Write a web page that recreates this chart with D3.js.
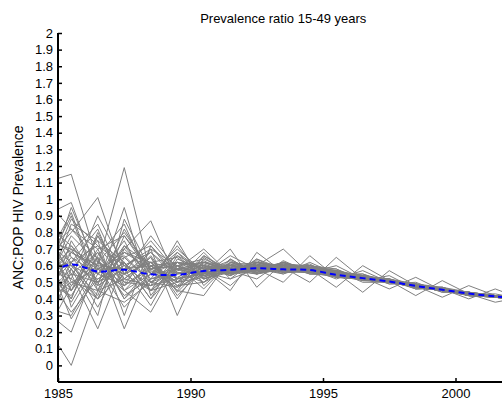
<!DOCTYPE html>
<html>
<head>
<meta charset="utf-8">
<script src="https://cdn.jsdelivr.net/npm/d3@7"></script>
<style>
  body { margin: 0; background: #fff; }
  text { font-family: "Liberation Sans", Arial, sans-serif; }
</style>
</head>
<body>
<div id="chart"></div>
<script>
const width = 502, height = 400;

// mid-year sample points (first one sits left of the axis and gets clipped)
const years = [1984.5, 1985.5, 1986.5, 1987.5, 1988.5, 1989.5, 1990.5, 1991.5, 1992.5, 1993.5,
  1994.5, 1995.5, 1996.5, 1997.5, 1998.5, 1999.5, 2000.5, 2001.5, 2002.5];

const xTicks = [1985, 1990, 1995, 2000];
const yTicks = d3.range(0, 21).map(i => i / 10);

// ensemble runs (gray)
const runs = [
  [1.10,1.15,0.62,0.80,0.58,0.60,0.62,0.60,0.62,0.60,0.59,0.56,0.54,0.52,0.49,0.47,0.44,0.42,0.41],
  [0.25,0.00,0.45,0.38,0.50,0.47,0.55,0.56,0.58,0.57,0.56,0.54,0.52,0.50,0.47,0.45,0.43,0.41,0.40],
  [0.62,0.80,1.01,0.55,0.62,0.58,0.60,0.57,0.60,0.58,0.58,0.55,0.53,0.51,0.48,0.46,0.43,0.42,0.40],
  [0.55,0.70,0.60,1.19,0.55,0.62,0.58,0.59,0.57,0.59,0.57,0.55,0.52,0.50,0.48,0.45,0.43,0.41,0.40],
  [0.40,0.55,0.22,0.62,0.45,0.50,0.53,0.58,0.56,0.60,0.58,0.53,0.52,0.51,0.47,0.46,0.42,0.41,0.39],
  [0.70,0.45,0.65,0.22,0.60,0.52,0.56,0.55,0.59,0.57,0.58,0.56,0.53,0.50,0.48,0.45,0.44,0.42,0.40],
  [0.90,0.98,0.55,0.70,0.87,0.50,0.62,0.58,0.60,0.61,0.60,0.57,0.54,0.51,0.49,0.46,0.44,0.42,0.41],
  [0.35,0.30,0.58,0.45,0.32,0.60,0.52,0.56,0.57,0.56,0.56,0.54,0.51,0.50,0.47,0.45,0.42,0.41,0.39],
  [0.50,0.88,0.72,0.60,0.70,0.30,0.65,0.55,0.60,0.58,0.59,0.55,0.53,0.50,0.48,0.46,0.43,0.42,0.40],
  [0.65,0.40,0.80,0.50,0.48,0.75,0.48,0.62,0.57,0.62,0.57,0.56,0.52,0.51,0.47,0.45,0.43,0.41,0.40],
  [0.45,0.62,0.40,0.72,0.52,0.58,0.70,0.55,0.62,0.57,0.60,0.54,0.54,0.50,0.48,0.46,0.43,0.42,0.40],
  [0.80,0.55,0.68,0.45,0.62,0.45,0.42,0.64,0.55,0.60,0.56,0.57,0.52,0.51,0.47,0.45,0.44,0.41,0.40],
  [0.30,0.75,0.50,0.62,0.40,0.66,0.58,0.45,0.68,0.56,0.59,0.55,0.53,0.50,0.48,0.46,0.42,0.42,0.40],
  [0.95,0.35,0.62,0.55,0.68,0.52,0.55,0.70,0.47,0.62,0.57,0.54,0.52,0.51,0.47,0.45,0.43,0.41,0.40],
  [0.58,0.90,0.45,0.82,0.55,0.58,0.62,0.57,0.60,0.70,0.55,0.56,0.53,0.50,0.48,0.46,0.43,0.42,0.40],
  [0.18,0.48,0.68,0.40,0.60,0.48,0.50,0.58,0.58,0.50,0.66,0.53,0.52,0.51,0.47,0.45,0.43,0.41,0.39],
  [0.75,0.62,0.35,0.65,0.50,0.62,0.60,0.54,0.62,0.59,0.50,0.65,0.52,0.50,0.48,0.46,0.43,0.42,0.40],
  [0.42,0.85,0.75,0.30,0.72,0.55,0.57,0.60,0.56,0.60,0.58,0.47,0.60,0.51,0.47,0.45,0.44,0.41,0.40],
  [0.68,0.28,0.55,0.75,0.45,0.68,0.52,0.58,0.59,0.57,0.57,0.56,0.44,0.57,0.48,0.46,0.42,0.42,0.40],
  [0.52,0.68,0.85,0.52,0.65,0.40,0.62,0.56,0.57,0.60,0.59,0.55,0.53,0.46,0.53,0.45,0.43,0.41,0.40],
  [0.38,0.50,0.45,0.68,0.58,0.60,0.46,0.62,0.60,0.56,0.57,0.56,0.52,0.51,0.42,0.51,0.43,0.41,0.39],
  [0.85,0.72,0.50,0.58,0.36,0.64,0.58,0.48,0.62,0.58,0.58,0.54,0.53,0.50,0.48,0.41,0.48,0.42,0.40],
  [0.60,0.40,0.78,0.48,0.60,0.50,0.66,0.57,0.52,0.63,0.56,0.57,0.52,0.51,0.47,0.46,0.40,0.46,0.40],
  [0.48,0.95,0.58,0.66,0.50,0.56,0.55,0.66,0.58,0.55,0.62,0.55,0.54,0.50,0.48,0.45,0.43,0.38,0.41],
  [0.72,0.58,0.30,0.88,0.57,0.47,0.60,0.54,0.64,0.58,0.56,0.60,0.52,0.51,0.47,0.46,0.43,0.41,0.40],
  [0.33,0.20,0.62,0.55,0.78,0.58,0.54,0.60,0.56,0.62,0.58,0.52,0.57,0.50,0.49,0.45,0.44,0.42,0.40],
  [1.00,0.82,0.70,0.40,0.55,0.70,0.56,0.58,0.61,0.57,0.60,0.58,0.51,0.54,0.46,0.47,0.42,0.41,0.40],
  [0.58,0.52,0.90,0.60,0.48,0.52,0.68,0.52,0.58,0.60,0.55,0.55,0.55,0.49,0.50,0.44,0.44,0.42,0.39],
  [0.45,0.65,0.48,0.95,0.42,0.62,0.50,0.64,0.55,0.58,0.61,0.53,0.52,0.52,0.47,0.47,0.42,0.41,0.40],
  [0.62,0.38,0.65,0.50,0.66,0.44,0.60,0.56,0.63,0.56,0.57,0.57,0.50,0.50,0.49,0.45,0.43,0.43,0.40],
  [0.20,0.58,0.40,0.55,0.62,0.65,0.52,0.58,0.57,0.61,0.58,0.55,0.54,0.51,0.46,0.46,0.44,0.41,0.40],
  [0.78,0.68,0.60,0.35,0.52,0.55,0.63,0.55,0.60,0.57,0.56,0.54,0.53,0.50,0.48,0.45,0.42,0.42,0.40],
  [0.55,0.45,0.70,0.78,0.58,0.50,0.57,0.61,0.58,0.59,0.59,0.56,0.52,0.51,0.47,0.46,0.43,0.41,0.40],
  [0.92,0.60,0.52,0.62,0.45,0.57,0.59,0.57,0.55,0.60,0.57,0.54,0.53,0.50,0.48,0.45,0.43,0.42,0.40],
  [0.48,0.78,0.62,0.48,0.70,0.60,0.54,0.59,0.61,0.58,0.58,0.57,0.52,0.51,0.47,0.46,0.44,0.41,0.40],
  [0.66,0.52,0.40,0.70,0.55,0.53,0.61,0.56,0.59,0.56,0.57,0.55,0.54,0.50,0.48,0.45,0.43,0.42,0.40],
  [0.40,0.68,0.58,0.58,0.60,0.62,0.55,0.60,0.57,0.60,0.58,0.54,0.52,0.51,0.47,0.46,0.42,0.41,0.40],
  [0.58,0.62,0.72,0.52,0.48,0.58,0.58,0.57,0.59,0.58,0.56,0.56,0.53,0.50,0.48,0.45,0.43,0.42,0.40],
  [0.88,0.50,0.58,0.68,0.62,0.48,0.60,0.58,0.55,0.61,0.59,0.55,0.53,0.51,0.48,0.45,0.43,0.41,0.40],
  [0.30,0.62,0.82,0.45,0.55,0.68,0.56,0.52,0.64,0.56,0.57,0.57,0.51,0.52,0.47,0.46,0.42,0.42,0.40],
  [0.62,0.92,0.48,0.58,0.75,0.56,0.50,0.62,0.57,0.59,0.56,0.53,0.54,0.49,0.49,0.44,0.44,0.41,0.39],
  [0.50,0.42,0.66,0.85,0.50,0.60,0.64,0.57,0.60,0.55,0.60,0.56,0.52,0.52,0.46,0.47,0.42,0.42,0.40],
  [0.75,0.70,0.45,0.52,0.65,0.42,0.58,0.60,0.58,0.62,0.57,0.54,0.55,0.50,0.48,0.45,0.43,0.41,0.40],
  [0.42,0.58,0.75,0.62,0.40,0.58,0.54,0.56,0.62,0.57,0.58,0.58,0.51,0.51,0.49,0.46,0.43,0.42,0.40],
  [0.98,0.65,0.55,0.48,0.58,0.62,0.60,0.55,0.57,0.60,0.55,0.54,0.53,0.50,0.47,0.45,0.44,0.41,0.40],
  [0.55,0.32,0.52,0.60,0.68,0.55,0.57,0.63,0.56,0.58,0.60,0.55,0.52,0.51,0.48,0.46,0.42,0.42,0.40],
  [0.68,0.82,0.64,0.42,0.52,0.72,0.52,0.58,0.61,0.56,0.57,0.56,0.54,0.50,0.47,0.45,0.43,0.41,0.39],
  [0.36,0.55,0.50,0.72,0.60,0.45,0.66,0.56,0.58,0.61,0.58,0.53,0.52,0.51,0.48,0.46,0.43,0.42,0.40],
  [0.82,0.45,0.78,0.55,0.45,0.60,0.55,0.61,0.55,0.58,0.59,0.57,0.53,0.50,0.48,0.45,0.44,0.41,0.40],
  [0.48,0.72,0.55,0.65,0.72,0.52,0.59,0.54,0.60,0.57,0.56,0.55,0.52,0.52,0.47,0.46,0.42,0.42,0.40],
  [0.60,0.60,0.42,0.78,0.55,0.66,0.53,0.60,0.59,0.59,0.58,0.56,0.53,0.50,0.48,0.45,0.43,0.41,0.40],
  [0.72,0.48,0.60,0.58,0.62,0.50,0.62,0.57,0.57,0.62,0.57,0.54,0.54,0.51,0.47,0.46,0.43,0.42,0.40]
];

// ensemble mean (blue dashed)
const meanRatio = [0.537,0.607,0.565,0.575,0.548,0.545,0.568,0.575,0.584,0.578,0.574,0.545,0.525,0.505,0.478,0.455,0.432,0.415,0.400];

const margin = {left: 58, top: 33, bottom: 18};
const plotW = 26.5 * 17; // 1985..2002
const plotH = height - margin.top - margin.bottom;

const svg = d3.select("#chart").append("svg")
  .attr("width", width)
  .attr("height", height);

const x = d3.scaleLinear().domain([1985, 2002]).range([margin.left, margin.left + plotW]);
const y = d3.scaleLinear().domain([-0.1, 2]).range([margin.top + plotH, margin.top]);

svg.append("clipPath").attr("id", "clip")
  .append("rect")
  .attr("x", x(1985)).attr("y", y(2))
  .attr("width", plotW).attr("height", y(-0.1) - y(2));

const line = d3.line()
  .x((d, i) => x(years[i]))
  .y(d => y(d));

const g = svg.append("g").attr("clip-path", "url(#clip)");

g.selectAll(".run")
  .data(runs)
  .join("path")
  .attr("class", "run")
  .attr("d", line)
  .attr("fill", "none")
  .attr("stroke", "#808080")
  .attr("stroke-width", 1);

g.append("path")
  .datum(meanRatio)
  .attr("d", line.curve(d3.curveCatmullRom))
  .attr("fill", "none")
  .attr("stroke", "#0000ff")
  .attr("stroke-width", 2)
  .attr("stroke-dasharray", "6,4");

// axes, matlab style: ticks point inwards
svg.append("g")
  .attr("transform", `translate(0,${y(-0.1)})`)
  .call(d3.axisBottom(x).tickValues(xTicks).tickFormat(d3.format("d")).tickSize(-4).tickPadding(7))
  .call(a => a.select(".domain").attr("stroke-width", 2).attr("d", `M${x(1985)},0H${width + 10}`))
  .call(a => a.selectAll(".tick line").attr("stroke-width", 1.5))
  .call(a => a.selectAll("text").attr("font-size", 13).attr("fill", "#000"));

svg.append("g")
  .attr("transform", `translate(${x(1985)},0)`)
  .call(d3.axisLeft(y).tickValues(yTicks).tickFormat(d => d3.format("")(+d.toFixed(1))).tickSize(-4).tickPadding(5))
  .call(a => a.select(".domain").attr("stroke-width", 2).attr("d", `M0,${y(2)}V${y(-0.1)}`))
  .call(a => a.selectAll(".tick line").attr("stroke-width", 1.5))
  .call(a => a.selectAll("text").attr("font-size", 13).attr("fill", "#000"));

svg.append("text")
  .attr("x", x(1985) + plotW / 2)
  .attr("y", 23)
  .attr("text-anchor", "middle")
  .attr("font-size", 13)
  .text("Prevalence ratio 15-49 years");

svg.append("text")
  .attr("transform", `translate(23,${(y(2) + y(-0.1)) / 2}) rotate(-90)`)
  .attr("text-anchor", "middle")
  .attr("font-size", 14)
  .text("ANC:POP HIV Prevalence");
</script>
</body>
</html>
